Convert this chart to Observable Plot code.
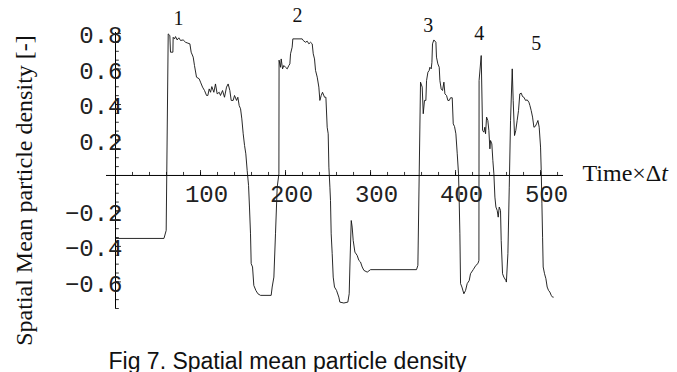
<!DOCTYPE html>
<html><head><meta charset="utf-8">
<script src="https://cdn.jsdelivr.net/npm/d3@7"></script>
<script src="https://cdn.jsdelivr.net/npm/@observablehq/plot@0.6"></script>
<style>body{margin:0;background:#fff;} svg{display:block}</style>
</head><body><div id="chart"></div>
<script>
const time = [0,57,59.6,62.0,63.9,64.7,67.5,67.8,69.4,70.6,72.5,74.5,76.5,79.6,82.4,85.1,87.5,89.0,91.4,92.9,95.3,98.4,100,102.4,104.7,107.1,108.6,110.2,111.8,113.3,115.7,117.6,119.6,122.0,123.5,125.9,128.2,130.6,132.5,134.5,136.1,138.4,140.0,142.4,143.9,145.5,147.1,148.6,150.2,151.8,153.3,154.9,156.5,157.6,158.8,159.6,161.2,162.7,165.1,167.5,170.6,183.1,184.3,186.3,188.2,190.2,192.2,192.4,194.1,194.9,196.5,198.0,200.0,202.0,203.9,205.1,205.9,207.8,208.6,219.6,220.8,223.5,225.5,227.5,229.4,231.4,232.6,234.1,235.3,237.3,239.2,240.4,242.0,243.5,245.9,247.5,249.0,250.2,251.0,252.2,252.9,253.7,254.9,256.1,257.6,260.0,262.7,263.9,268.6,273.3,274.9,275.7,277.3,278.4,279.6,281.6,284.3,286.3,288.2,290.2,292.2,296.1,300.0,354.1,355.7,358.8,360.8,362.0,363.5,365.1,365.9,367.5,369.0,369.8,371.4,372.2,372.9,374.5,376.9,377.6,379.2,380.8,381.6,383.1,384.7,386.3,387.5,389.4,391.0,392.6,394.1,396.1,397.3,398.8,400.4,402.0,403.5,404.3,405.1,405.9,407.5,409.8,411.8,413.7,416.1,417.6,420.8,423.9,426.3,427.5,427.7,430.2,431.8,433.3,434.5,435.3,436.5,438.0,439.2,440.4,441.2,442.7,443.9,445.1,446.3,447.5,449.0,450.2,451.4,452.9,453.7,455.3,456.8,459.2,459.8,461.6,463.2,464.7,466.7,467.8,469.4,470.9,472.5,474.1,475.6,477.3,478.8,480.4,482.4,484.3,486.3,487.5,489.0,490.6,492.2,493.7,495.3,496.9,498.4,500.0,500.8,501.6,502.4,503.1,504.7,506.3,507.8,509.4,510.9,512.6,514.1,514.9];
const density = [-0.355,-0.355,-0.31,0.798,0.789,0.695,0.695,0.779,0.770,0.783,0.764,0.776,0.761,0.764,0.751,0.746,0.742,0.695,0.667,0.620,0.554,0.545,0.526,0.498,0.479,0.451,0.451,0.488,0.469,0.501,0.469,0.516,0.460,0.469,0.451,0.479,0.441,0.498,0.516,0.479,0.423,0.423,0.451,0.423,0.441,0.394,0.376,0.319,0.235,0.169,0.122,0.028,-0.056,-0.178,-0.329,-0.497,-0.516,-0.620,-0.648,-0.667,-0.676,-0.676,-0.629,-0.573,-0.329,-0.066,0.009,0.650,0.610,0.657,0.601,0.620,0.610,0.601,0.620,0.629,0.686,0.723,0.770,0.770,0.761,0.751,0.757,0.742,0.751,0.742,0.686,0.657,0.592,0.554,0.498,0.423,0.451,0.469,0.441,0.441,0.272,0.235,0.047,-0.066,-0.141,-0.329,-0.441,-0.573,-0.629,-0.648,-0.686,-0.714,-0.719,-0.714,-0.667,-0.516,-0.254,-0.291,-0.366,-0.432,-0.451,-0.479,-0.488,-0.516,-0.535,-0.545,-0.531,-0.531,-0.507,0.526,0.498,0.348,0.423,0.423,0.535,0.582,0.592,0.610,0.601,0.638,0.742,0.764,0.751,0.667,0.629,0.610,0.535,0.488,0.479,0.526,0.460,0.451,0.423,0.423,0.438,0.438,0.291,0.276,0.235,0.122,0.009,-0.141,-0.329,-0.610,-0.629,-0.667,-0.648,-0.610,-0.592,-0.554,-0.531,-0.507,-0.497,-0.479,0.535,0.676,0.254,0.244,0.272,0.235,0.329,0.310,0.254,0.150,0.197,0.178,0.085,0.009,-0.122,-0.178,-0.197,-0.235,-0.178,-0.197,-0.366,-0.554,-0.573,-0.592,-0.601,-0.441,-0.066,0.310,0.601,0.423,0.225,0.254,0.310,0.366,0.460,0.464,0.445,0.441,0.423,0.426,0.413,0.394,0.366,0.329,0.272,0.276,0.291,0.310,0.272,0.160,0.028,-0.160,-0.348,-0.516,-0.554,-0.582,-0.629,-0.648,-0.657,-0.676,-0.686,-0.686];

const xTickValues = [100, 200, 300, 400, 500];
const xTickLabels = ["100", "200", "300", "400", "500"];
const yTickValues = [0.8, 0.6, 0.4, 0.2, -0.2, -0.4, -0.6];
const yTickLabels = ["0.8", "0.6", "0.4", "0.2", "−0.2", "−0.4", "−0.6"];
const peakLabels = ["1", "2", "3", "4", "5"];
const peakLabelTime = [74, 214, 368, 428, 495];
const peakLabelDensity = [0.885, 0.90, 0.845, 0.80, 0.744];
const xTitle = "Time×Δt";
const yTitle = "Spatial Mean particle density [-]";
const captionText = "Fig 7. Spatial mean particle density";

const series = time.map((t, i) => ({t, v: density[i]}));
const xMin = -10.6, xMax = 527, yMin = -0.75, yMax = 0.806;
const xMinor = d3.range(20, 521, 20);
const yMinor = d3.range(-15, 17).map(k => k / 20).filter(v => v !== 0);

const mono = "'Liberation Mono', 'Courier New', monospace";
const serif = "'Liberation Serif', 'Times New Roman', serif";
const tickStyle = {fontFamily: mono, fontSize: 24, fill: "#222", style: "letter-spacing:2.4px"};

const plot = Plot.plot({
  width: 677, height: 372,
  marginLeft: 106, marginRight: 114, marginTop: 32, marginBottom: 64,
  x: {domain: [xMin, xMax], axis: null},
  y: {domain: [yMin, yMax], axis: null},
  style: {background: "white", overflow: "visible"},
  marks: [
    Plot.ruleY([0], {x1: xMin, x2: xMax, stroke: "black", strokeWidth: 1}),
    Plot.ruleX([0], {y1: yMin, y2: yMax, stroke: "black", strokeWidth: 1}),
    Plot.ruleX(xMinor, {x: d => d, y1: 0, y2: 0.017, stroke: "black", strokeWidth: 0.8}),
    Plot.ruleX(xTickValues, {x: d => d, y1: 0, y2: 0.028, stroke: "black", strokeWidth: 0.8}),
    Plot.ruleY(yMinor, {y: d => d, x1: 0, x2: 4.5, stroke: "black", strokeWidth: 0.8}),
    Plot.ruleY(yTickValues, {y: d => d, x1: 0, x2: 7, stroke: "black", strokeWidth: 0.8}),
    Plot.line(series, {x: "t", y: "v", stroke: "#111", strokeWidth: 0.9}),
    Plot.text(xTickLabels, {text: d => d, x: (d, i) => xTickValues[i], y: 0, dx: 6, dy: 19, lineAnchor: "middle", ...tickStyle}),
    Plot.text(yTickLabels, {text: d => d, x: 0, y: (d, i) => yTickValues[i], dx: 7, dy: 2, textAnchor: "end", lineAnchor: "middle", ...tickStyle}),
    Plot.text(peakLabels, {text: d => d, x: (d, i) => peakLabelTime[i], y: (d, i) => peakLabelDensity[i], lineAnchor: "middle", fontFamily: serif, fontSize: 20, fill: "#111"}),
    Plot.text([xTitle], {text: d => d, frameAnchor: "right", y: 0, dx: 19, dy: -2, textAnchor: "start", lineAnchor: "middle", fontFamily: serif, fontSize: 24, fill: "#111"}),
    Plot.text([yTitle], {text: d => d, frameAnchor: "left", rotate: -90, dx: -82, dy: 20, textAnchor: "middle", lineAnchor: "middle", fontFamily: serif, fontSize: 24, fill: "#111"}),
    Plot.text([captionText], {text: d => d, frameAnchor: "bottom-left", dx: 2, dy: 60, textAnchor: "start", lineAnchor: "bottom", fontFamily: "'Liberation Sans', Arial, sans-serif", fontSize: 23, fill: "#111"})
  ]
});
document.getElementById("chart").appendChild(plot);
// italic t in the x-axis title
plot.querySelectorAll("text").forEach(el => {
  if (el.textContent === xTitle) {
    el.textContent = "Time×Δ";
    const ts = document.createElementNS("http://www.w3.org/2000/svg", "tspan");
    ts.setAttribute("font-style", "italic");
    ts.textContent = "t";
    el.appendChild(ts);
  }
});
</script>
</body></html>
